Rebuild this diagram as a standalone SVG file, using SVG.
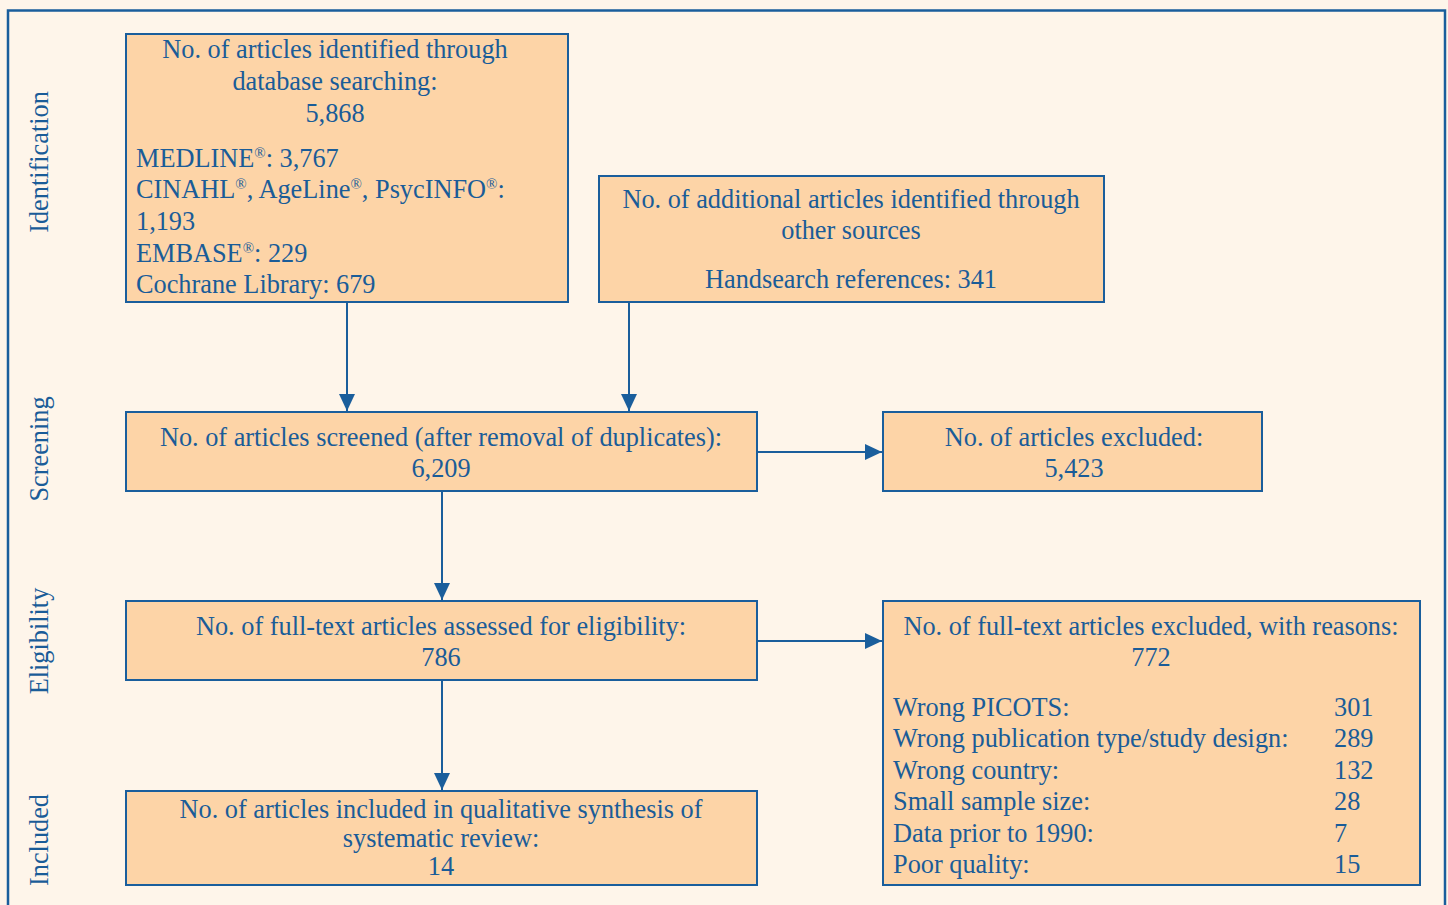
<svg xmlns="http://www.w3.org/2000/svg" width="1448" height="905" viewBox="0 0 1448 905">
<style>
.box{fill:#fdd4a7;stroke:#1a5e9c;stroke-width:2}
text{font-family:"Liberation Serif","Times New Roman",serif;font-size:26.3px;fill:#1a5c98}
.c{text-anchor:middle}
.lab{text-anchor:middle}
.sup{font-size:15px}
.conn line{stroke:#1a5e9c;stroke-width:2;fill:none}
</style>
<defs>
<marker id="ah" markerWidth="18" markerHeight="16" refX="17" refY="8" orient="auto" markerUnits="userSpaceOnUse">
<path d="M0,0 L17,8 L0,16 Z" fill="#1a5e9c"/>
</marker>
</defs>
<rect x="0" y="0" width="1448" height="905" fill="#fef5ea"/>
<rect x="8" y="10.5" width="1437" height="920" fill="none" stroke="#1a5e9c" stroke-width="2.5"/>

<g id="labels">
<text class="lab" transform="translate(48,162) rotate(-90)">Identification</text>
<text class="lab" transform="translate(48,449) rotate(-90)">Screening</text>
<text class="lab" transform="translate(48,641) rotate(-90)">Eligibility</text>
<text class="lab" transform="translate(48,840) rotate(-90)">Included</text>
</g>

<g id="conns" class="conn">
<line x1="347" y1="302" x2="347" y2="411" marker-end="url(#ah)"/>
<line x1="629" y1="302" x2="629" y2="411" marker-end="url(#ah)"/>
<line x1="757" y1="452" x2="882" y2="452" marker-end="url(#ah)"/>
<line x1="442" y1="491" x2="442" y2="600" marker-end="url(#ah)"/>
<line x1="757" y1="641" x2="882" y2="641" marker-end="url(#ah)"/>
<line x1="442" y1="680" x2="442" y2="790" marker-end="url(#ah)"/>
</g>

<g id="db">
<rect class="box" x="126" y="34" width="442" height="268"/>
<text class="c" x="335" y="58">No. of articles identified through</text>
<text class="c" x="335" y="90">database searching:</text>
<text class="c" x="335" y="122">5,868</text>
<text x="136" y="167">MEDLINE<tspan class="sup" dy="-9">®</tspan><tspan dy="9">: 3,767</tspan></text>
<text x="136" y="198">CINAHL<tspan class="sup" dy="-9">®</tspan><tspan dy="9">, AgeLine</tspan><tspan class="sup" dy="-9">®</tspan><tspan dy="9">, PsycINFO</tspan><tspan class="sup" dy="-9">®</tspan><tspan dy="9">:</tspan></text>
<text x="136" y="230">1,193</text>
<text x="136" y="262">EMBASE<tspan class="sup" dy="-9">®</tspan><tspan dy="9">: 229</tspan></text>
<text x="136" y="293">Cochrane Library: 679</text>
</g>

<g id="other">
<rect class="box" x="599" y="176" width="505" height="126"/>
<text class="c" x="851" y="208">No. of additional articles identified through</text>
<text class="c" x="851" y="239">other sources</text>
<text class="c" x="851" y="288">Handsearch references: 341</text>
</g>

<g id="screened">
<rect class="box" x="126" y="412" width="631" height="79"/>
<text class="c" x="441" y="446">No. of articles screened (after removal of duplicates):</text>
<text class="c" x="441" y="477">6,209</text>
</g>

<g id="excluded">
<rect class="box" x="883" y="412" width="379" height="79"/>
<text class="c" x="1074" y="446">No. of articles excluded:</text>
<text class="c" x="1074" y="477">5,423</text>
</g>

<g id="fulltext">
<rect class="box" x="126" y="601" width="631" height="79"/>
<text class="c" x="441" y="635">No. of full-text articles assessed for eligibility:</text>
<text class="c" x="441" y="666">786</text>
</g>

<g id="reasons">
<rect class="box" x="883" y="601" width="537" height="284"/>
<text class="c" x="1151" y="635">No. of full-text articles excluded, with reasons:</text>
<text class="c" x="1151" y="666">772</text>
<text x="893" y="716">Wrong PICOTS:</text>
<text x="893" y="747">Wrong publication type/study design:</text>
<text x="893" y="779">Wrong country:</text>
<text x="893" y="810">Small sample size:</text>
<text x="893" y="842">Data prior to 1990:</text>
<text x="893" y="873">Poor quality:</text>
<text x="1334" y="716">301</text>
<text x="1334" y="747">289</text>
<text x="1334" y="779">132</text>
<text x="1334" y="810">28</text>
<text x="1334" y="842">7</text>
<text x="1334" y="873">15</text>
</g>

<g id="included">
<rect class="box" x="126" y="791" width="631" height="94"/>
<text class="c" x="441" y="818">No. of articles included in qualitative synthesis of</text>
<text class="c" x="441" y="847">systematic review:</text>
<text class="c" x="441" y="875">14</text>
</g>
</svg>
